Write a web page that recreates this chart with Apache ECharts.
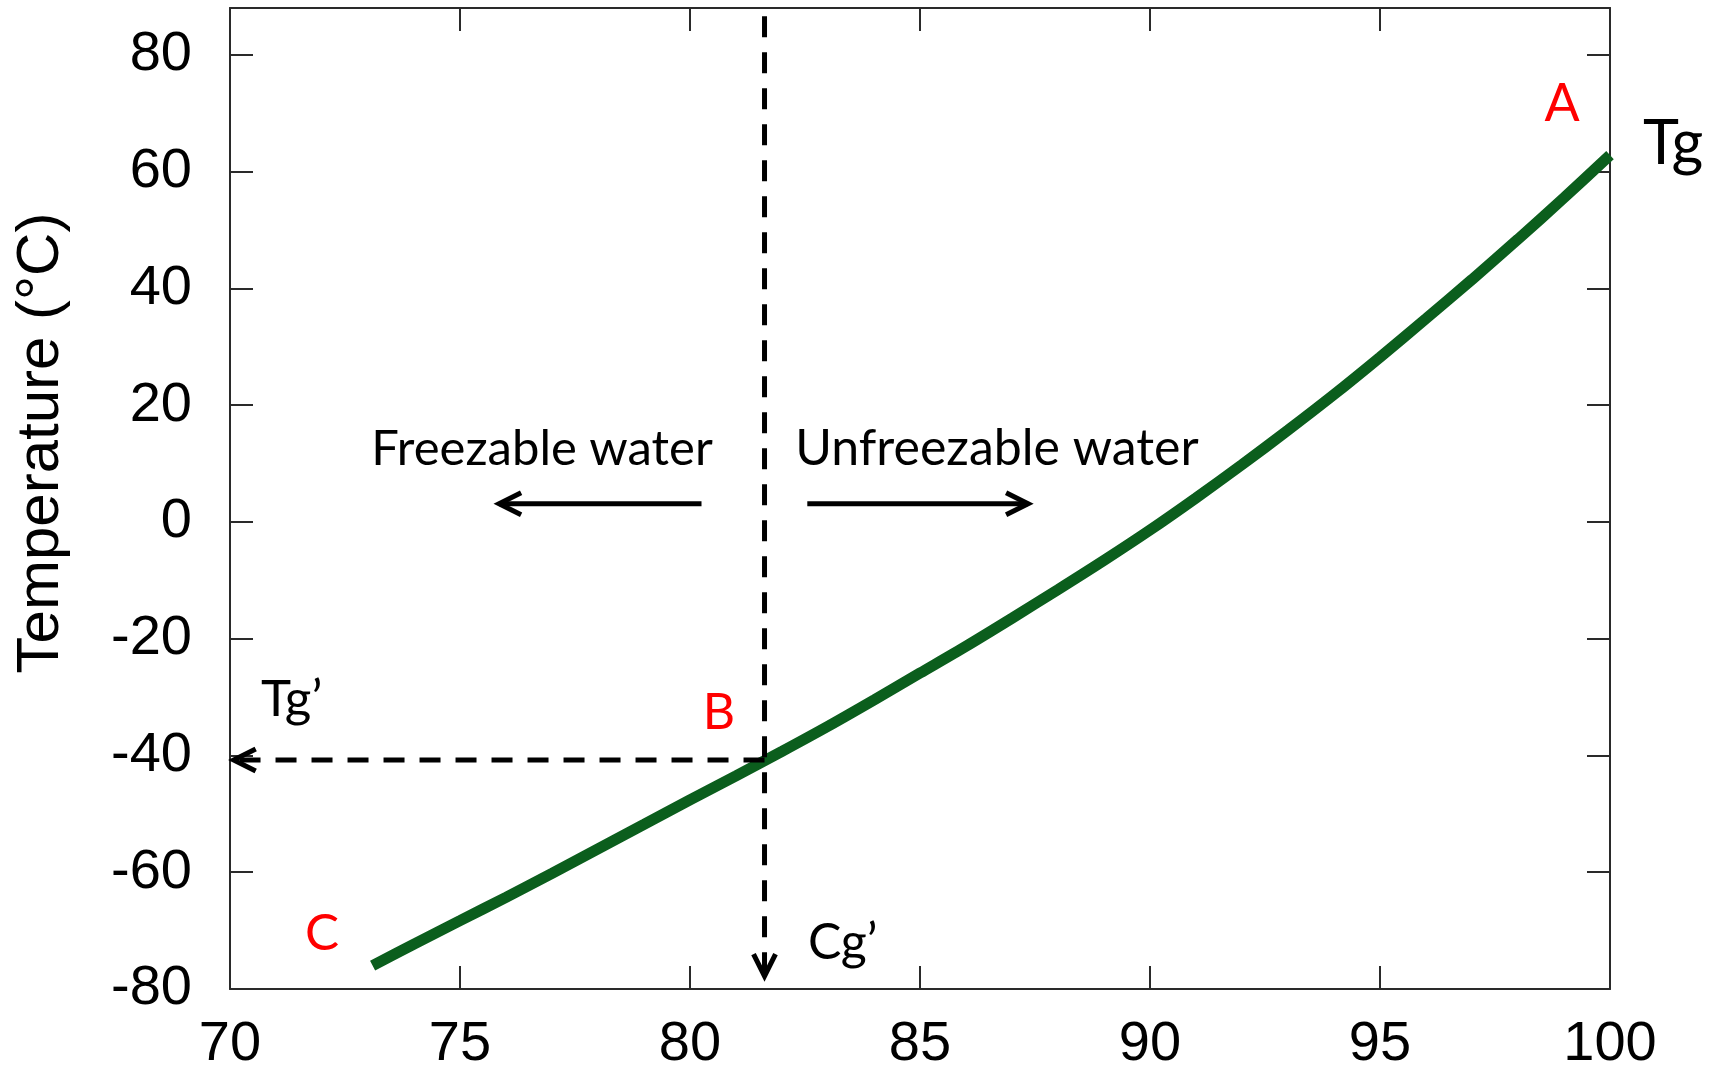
<!DOCTYPE html>
<html>
<head>
<meta charset="utf-8">
<title>Tg curve</title>
<script src="https://cdn.jsdelivr.net/npm/echarts@6/dist/echarts.min.js"></script>
<style>
html, body { margin: 0; padding: 0; background: #fff; }
#chart { width: 1710px; height: 1074px; }
</style>
</head>
<body>
<div id="chart"></div>
<script>
// solids content (x) and glass transition temperature (y)
const solids = [73.1, 74, 75, 76, 77, 78, 79, 80, 81, 82, 83, 84, 85, 86, 87, 88, 89, 90,
  91, 92, 93, 94, 95, 96, 97, 98, 99, 100];
const tempC = [-76.0, -72.3, -68.3, -64.3, -60.2, -56.0, -51.8, -47.6, -43.5, -39.3, -35.0,
  -30.5, -25.9, -21.3, -16.5, -11.6, -6.6, -1.4, 4.1, 9.8, 15.7, 21.8, 28.2, 34.8, 41.5,
  48.4, 55.5, 62.8];
const xTicks = [70, 75, 80, 85, 90, 95, 100];
const yTicks = [-80, -60, -40, -20, 0, 20, 40, 60, 80];

// annotation values (data units)
const tgPrime = -40.8;
const cgPrime = 81.62;
const arrowLevel = 3.1;
const freezableArrow = [80.25, 75.85];
const unfreezableArrow = [82.55, 87.35];

const AXIS = '#2a2a2a';
const chart = echarts.init(document.getElementById('chart'));

const axisCommon = {
  type: 'value',
  axisLine: { show: true, onZero: false, lineStyle: { color: AXIS, width: 2 } },
  axisTick: { show: true, inside: true, length: 23, lineStyle: { color: AXIS, width: 2 } },
  splitLine: { show: false }
};

chart.setOption({
  animation: false,
  grid: { left: 230, right: 100, top: 8, bottom: 85 },
  xAxis: [
    Object.assign({}, axisCommon, {
      position: 'bottom', min: 70, max: 100, interval: 5,
      axisLabel: { fontSize: 56, fontFamily: 'Liberation Sans', color: '#000', margin: 28 }
    }),
    Object.assign({}, axisCommon, {
      position: 'top', min: 70, max: 100, interval: 5, axisLabel: { show: false }
    })
  ],
  yAxis: [
    Object.assign({}, axisCommon, {
      position: 'left', min: -80, max: 88, interval: 20,
      axisLabel: {
        fontSize: 56, fontFamily: 'Liberation Sans', color: '#000', margin: 38,
        showMaxLabel: false,
        formatter: v => (yTicks.indexOf(v) >= 0 ? String(v) : '')
      }
    }),
    Object.assign({}, axisCommon, {
      position: 'right', min: -80, max: 88, interval: 20, axisLabel: { show: false }
    })
  ],
  series: [{
    type: 'line',
    data: solids.map((x, i) => [x, tempC[i]]),
    showSymbol: false,
    smooth: 0.3,
    lineStyle: { color: '#0b5e1d', width: 11, cap: 'butt' },
    z: 3
  }]
});

function px(x, y) { return chart.convertToPixel({ gridIndex: 0 }, [x, y]); }

function chevron(tip, dir, len, half) {
  const n = [-dir[1], dir[0]];
  return {
    type: 'polyline',
    shape: { points: [
      [tip[0] - dir[0] * len + n[0] * half, tip[1] - dir[1] * len + n[1] * half],
      tip,
      [tip[0] - dir[0] * len - n[0] * half, tip[1] - dir[1] * len - n[1] * half]
    ] },
    style: { stroke: '#000', lineWidth: 5, fill: null, lineJoin: 'miter' },
    z: 10
  };
}

function label(text, x, y, size, color, align, family) {
  return {
    type: 'text', x: x, y: y, z: 10,
    style: {
      text: text, fill: color, fontSize: size, fontFamily: family || 'Lato',
      align: align, verticalAlign: 'middle'
    }
  };
}

const g = [];
// vertical dashed line to Cg'
const vTop = px(cgPrime, 86.6), vBot = px(cgPrime, -77.8);
g.push({ type: 'polyline', shape: { points: [vTop, vBot] }, z: 9,
  style: { stroke: '#000', lineWidth: 5, lineDash: [21, 15], fill: null } });
g.push(chevron(vBot, [0, 1], 22, 11));
// horizontal dashed line to Tg'
const hR = px(cgPrime, tgPrime), hL = px(70.08, tgPrime);
g.push({ type: 'polyline', shape: { points: [hR, hL] }, z: 9,
  style: { stroke: '#000', lineWidth: 5, lineDash: [21, 15], fill: null } });
g.push(chevron(hL, [-1, 0], 22, 11));
// freezable / unfreezable arrows
[freezableArrow, unfreezableArrow].forEach(a => {
  const p0 = px(a[0], arrowLevel), p1 = px(a[1], arrowLevel);
  g.push({ type: 'polyline', shape: { points: [p0, p1] }, z: 9,
    style: { stroke: '#000', lineWidth: 5, fill: null } });
  g.push(chevron(p1, [Math.sign(p1[0] - p0[0]), 0], 22, 11));
});

// texts
g.push(label('Freezable water', 542, 449, 49, '#000', 'center'));
g.push(label('Unfreezable water', 997, 449, 50, '#000', 'center'));
g.push(label('A', 1562, 104, 52, '#ff0000', 'center'));
g.push(label('Tg', 1643, 144, 61, '#000', 'left'));
g.push(label('B', 719, 713, 50, '#ff0000', 'center'));
g.push(label('C', 322, 934, 51, '#ff0000', 'center'));
g.push(label('Tg\u2019', 261, 700, 51, '#000', 'left'));
g.push(label('Cg\u2019', 808, 943, 50, '#000', 'left'));
g.push({
  type: 'text', x: 41, y: 443, rotation: Math.PI / 2, z: 10,
  style: { text: 'Temperature (°C)', fill: '#000', fontSize: 60,
    fontFamily: 'Liberation Sans', align: 'center', verticalAlign: 'middle' }
});

chart.setOption({ graphic: g });
</script>
</body>
</html>
